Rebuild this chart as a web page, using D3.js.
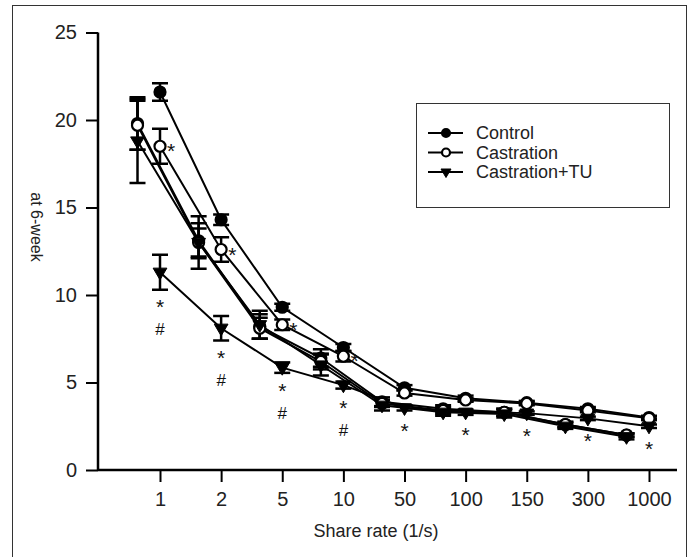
<!DOCTYPE html>
<html>
<head>
<meta charset="utf-8">
<script src="https://cdn.jsdelivr.net/npm/d3@7"></script>
<style>
  body { margin: 0; background: #fff; }
  svg { font-family: "Liberation Sans", Arial, sans-serif; }
</style>
</head>
<body>
<div id="chart"></div>
<script>
var rates = ["1", "2", "5", "10", "50", "100", "150", "300", "1000"];
var yTicks = [0, 5, 10, 15, 20, 25];

// points on the ticks
var controlA      = [21.6, 14.3, 9.3, 7.0, 4.7, 4.1, 3.85, 3.5, 3.0];
var controlAErr   = [0.5, 0.3, 0.2, 0.2, 0.15, 0.15, 0.1, 0.1, 0.1];
var castA         = [18.5, 12.6, 8.3, 6.5, 4.4, 4.0, 3.8, 3.4, 2.95];
var castAErr      = [1.0, 0.7, 0.3, 0.3, 0.15, 0.1, 0.1, 0.1, 0.1];
var tuA           = [11.3, 8.1, 5.85, 4.85, 3.55, 3.3, 3.25, 2.95, 2.5];
var tuAErr        = [1.0, 0.7, 0.3, 0.2, 0.15, 0.15, 0.1, 0.1, 0.1];

// points shifted left of the ticks
var controlB      = [19.8, 13.1, 8.2, 6.4, 3.9, 3.5, 3.3, 2.6, 2.0];
var controlBErr   = [1.5, 1.0, 0.7, 0.5, 0.25, 0.2, 0.2, 0.15, 0.1];
var castB         = [19.7, 13.0, 8.1, 6.2, 3.8, 3.4, 3.3, 2.6, 2.0];
var castBErr      = [1.4, 0.8, 0.6, 0.45, 0.2, 0.2, 0.2, 0.15, 0.1];
var tuB           = [18.8, 13.0, 8.3, 6.0, 3.7, 3.3, 3.2, 2.5, 1.9];
var tuBErr        = [2.4, 1.5, 0.8, 0.6, 0.3, 0.2, 0.2, 0.15, 0.15];

var castStar = ["*", "*", "*", "*", "", "", "", "", ""];
var tuStar   = ["*", "*", "*", "*", "*", "*", "*", "*", "*"];
var tuHash   = ["#", "#", "#", "#", "", "", "", "", ""];

var legendNames = ["Control", "Castration", "Castration+TU"];

var W = 688, H = 557;
var svg = d3.select("#chart").append("svg")
    .attr("width", W)
    .attr("height", H);

svg.append("rect")
    .attr("x", 12.5).attr("y", 5.5)
    .attr("width", 674).attr("height", 560)
    .attr("fill", "none").attr("stroke", "#333").attr("stroke-width", 1);

var x = d3.scalePoint().domain(rates).range([160, 649]);
var shift = -22.5;
var y = d3.scaleLinear().domain([0, 25]).range([470, 32.5]);

// axes
var yAxis = svg.append("g")
    .attr("transform", "translate(98,0)")
    .call(d3.axisLeft(y).tickValues(yTicks).tickSize(12).tickPadding(9));
yAxis.select(".domain").remove();
yAxis.append("line").attr("x1", 0).attr("x2", 0).attr("y1", y(25)).attr("y2", y(0))
    .attr("stroke", "#000").attr("stroke-width", 2.5);
yAxis.selectAll(".tick line").attr("stroke-width", 2);
yAxis.selectAll(".tick text").attr("font-size", 20).attr("fill", "#222")
    .attr("font-family", "Liberation Sans, Arial, sans-serif");

var xAxis = svg.append("g")
    .attr("transform", "translate(0,470)")
    .call(d3.axisBottom(x).tickSize(12).tickPadding(10));
xAxis.select(".domain").remove();
xAxis.append("line").attr("x1", 98).attr("x2", 677).attr("y1", 0).attr("y2", 0)
    .attr("stroke", "#000").attr("stroke-width", 2.5);
xAxis.selectAll(".tick line").attr("stroke-width", 2);
xAxis.selectAll(".tick text").attr("font-size", 20).attr("fill", "#222")
    .attr("font-family", "Liberation Sans, Arial, sans-serif");

svg.append("text")
    .attr("x", 376).attr("y", 537)
    .attr("text-anchor", "middle")
    .attr("font-size", 18).attr("fill", "#222")
    .text("Share rate (1/s)");

svg.append("text")
    .attr("transform", "translate(31,227) rotate(90)")
    .attr("text-anchor", "middle")
    .attr("font-size", 16).attr("fill", "#222")
    .text("at 6-week");

// series
var series = [
  { vals: controlB, err: controlBErr, dx: shift, mark: "filled" },
  { vals: castB,    err: castBErr,    dx: shift, mark: "open" },
  { vals: tuB,      err: tuBErr,      dx: shift, mark: "tri" },
  { vals: controlA, err: controlAErr, dx: 0, mark: "filled" },
  { vals: castA,    err: castAErr,    dx: 0, mark: "open" },
  { vals: tuA,      err: tuAErr,      dx: 0, mark: "tri" }
];

var line = d3.line()
    .x(function(d) { return d.x; })
    .y(function(d) { return d.y; });

series.forEach(function(s) {
  s.pts = s.vals.map(function(v, i) {
    return { x: x(rates[i]) + s.dx, y: y(v), lo: y(v - s.err[i]), hi: y(v + s.err[i]) };
  });
  svg.append("path")
      .attr("d", line(s.pts))
      .attr("fill", "none")
      .attr("stroke", "#000")
      .attr("stroke-width", 2);
});

series.forEach(function(s) {
  var g = svg.append("g").attr("stroke", "#000").attr("stroke-width", 2.5);
  s.pts.forEach(function(p) {
    g.append("line").attr("x1", p.x).attr("x2", p.x).attr("y1", p.lo).attr("y2", p.hi);
    g.append("line").attr("x1", p.x - 8).attr("x2", p.x + 8).attr("y1", p.lo).attr("y2", p.lo);
    g.append("line").attr("x1", p.x - 8).attr("x2", p.x + 8).attr("y1", p.hi).attr("y2", p.hi);
  });
});

function drawMark(g, mark, cx, cy, r) {
  if (mark === "tri") {
    var a = r * 1.25;
    g.append("path")
        .attr("d", "M" + (cx - a) + "," + (cy - a * 0.6) + "L" + (cx + a) + "," + (cy - a * 0.6) +
                   "L" + cx + "," + (cy + a * 1.1) + "Z")
        .attr("fill", "#000").attr("stroke", "#000").attr("stroke-width", 1);
  } else {
    g.append("circle")
        .attr("cx", cx).attr("cy", cy).attr("r", r)
        .attr("fill", mark === "open" ? "#fff" : "#000")
        .attr("stroke", "#000").attr("stroke-width", 2.2);
  }
}

series.forEach(function(s) {
  var g = svg.append("g");
  s.pts.forEach(function(p) { drawMark(g, s.mark, p.x, p.y, 5.5); });
});

// significance marks
var ann = svg.append("g").attr("fill", "#111").attr("text-anchor", "middle");
castA.forEach(function(v, i) {
  ann.append("text").attr("x", x(rates[i]) + 7).attr("y", y(v) + 12)
      .attr("font-size", 21).attr("text-anchor", "start").text(castStar[i]);
});
tuA.forEach(function(v, i) {
  var base = Math.max(y(v - tuAErr[i]), y(v) + 6);
  ann.append("text").attr("x", x(rates[i])).attr("y", base + 24)
      .attr("font-size", 21).text(tuStar[i]);
  ann.append("text").attr("x", x(rates[i])).attr("y", base + 45)
      .attr("font-size", 17).text(tuHash[i]);
});

// legend
var lg = svg.append("g");
lg.append("rect")
    .attr("x", 416.5).attr("y", 103.5).attr("width", 253).attr("height", 104)
    .attr("fill", "#fff").attr("stroke", "#333").attr("stroke-width", 1);
var marks = ["filled", "open", "tri"];
legendNames.forEach(function(name, i) {
  var ly = 133 + i * 19.5;
  lg.append("line").attr("x1", 428).attr("x2", 463).attr("y1", ly).attr("y2", ly)
      .attr("stroke", "#000").attr("stroke-width", 2);
  drawMark(lg, marks[i], 446, ly, 4);
  lg.append("text").attr("x", 476).attr("y", ly + 6)
      .attr("font-size", 18).attr("fill", "#222").text(name);
});
</script>
</body>
</html>
